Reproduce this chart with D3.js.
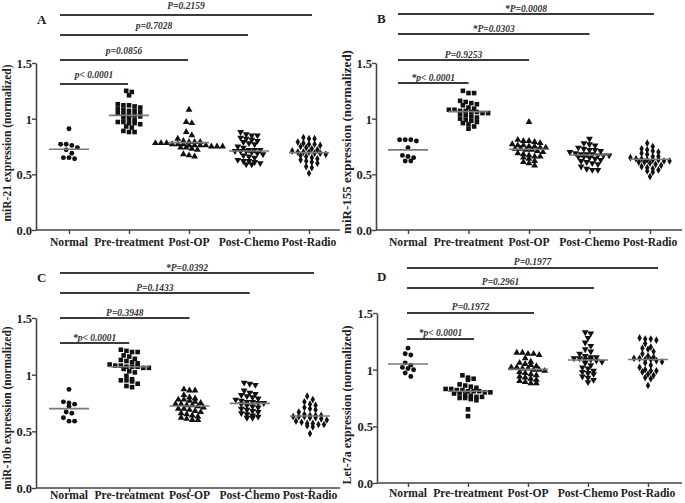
<!DOCTYPE html>
<html>
<head>
<meta charset="utf-8">
<script src="https://cdn.jsdelivr.net/npm/d3@7"></script>
<style>
html,body{margin:0;padding:0;background:#fff;}
svg{display:block;}
</style>
</head>
<body>
<svg id="chart" width="685" height="503"></svg>
<script>
// ---------------- DATA ----------------
const categories = ["Normal", "Pre-treatment", "Post-OP", "Post-Chemo", "Post-Radio"];
const panelLetters = ["A", "B", "C", "D"];
const yTitles = ["miR-21 expression (normalized)", "miR-155 expression (normalized)",
                 "miR-10b expression (normalized)", "Let-7a expression (normalized)"];
const yTickValues = [0, 0.5, 1, 1.5];
const yTickLabels = ["0.0", "0.5", "1", "1.5"];

// Panel A: miR-21
const a_normal = [0.91, 0.77, 0.76, 0.77, 0.74, 0.72, 0.69, 0.65, 0.64, 0.65];
const a_pre = [1.25, 1.24, 1.21, 1.13, 1.12, 1.12, 1.11, 1.10, 1.09, 1.08, 1.07, 1.07, 1.06, 1.05, 1.04,
               1.03, 1.03, 1.02, 1.01, 1.00, 0.99, 0.97, 0.97, 0.96, 0.96, 0.95, 0.93, 0.92, 0.89, 0.88, 0.88];
const a_op = [1.08, 0.97, 0.96, 0.88, 0.85, 0.82, 0.80, 0.79, 0.79, 0.79, 0.78, 0.78, 0.78, 0.77, 0.77,
              0.77, 0.76, 0.76, 0.76, 0.76, 0.75, 0.75, 0.75, 0.74, 0.74, 0.73, 0.72, 0.68, 0.67, 0.66];
const a_chemo = [0.88, 0.86, 0.85, 0.85, 0.83, 0.82, 0.81, 0.80, 0.79, 0.78, 0.77, 0.75, 0.74, 0.72, 0.72, 0.72,
                 0.71, 0.71, 0.71, 0.70, 0.69, 0.68, 0.67, 0.66, 0.65, 0.63, 0.62, 0.62, 0.61, 0.60, 0.59, 0.59];
const a_radio = [0.83, 0.82, 0.82, 0.79, 0.78, 0.77, 0.77, 0.76, 0.75, 0.74, 0.73, 0.72, 0.71, 0.70, 0.70,
                 0.70, 0.69, 0.69, 0.68, 0.67, 0.66, 0.65, 0.64, 0.63, 0.62, 0.61, 0.60, 0.57, 0.56, 0.51];
const a_medians = [0.725, 1.03, 0.785, 0.71, 0.695];
const a_pvals = ["p< 0.0001", "p=0.0856", "p=0.7028", "P=0.2159"];

// Panel B: miR-155
const b_normal = [0.81, 0.81, 0.80, 0.81, 0.74, 0.67, 0.66, 0.65, 0.62, 0.62];
const b_pre = [1.25, 1.23, 1.23, 1.16, 1.15, 1.14, 1.13, 1.12, 1.10, 1.09, 1.08, 1.08, 1.07, 1.07, 1.06,
               1.06, 1.05, 1.05, 1.04, 1.03, 1.02, 1.01, 1.00, 0.99, 0.98, 0.97, 0.96, 0.95, 0.93, 0.91];
const b_op = [0.97, 0.81, 0.80, 0.80, 0.79, 0.78, 0.77, 0.76, 0.76, 0.75, 0.75, 0.74, 0.74, 0.73, 0.73,
              0.72, 0.72, 0.71, 0.70, 0.69, 0.68, 0.67, 0.66, 0.66, 0.65, 0.64, 0.62, 0.61, 0.60, 0.58];
const b_chemo = [0.82, 0.78, 0.77, 0.76, 0.74, 0.73, 0.72, 0.72, 0.71, 0.70, 0.69, 0.68, 0.68, 0.68, 0.67,
                 0.67, 0.67, 0.66, 0.66, 0.65, 0.64, 0.63, 0.62, 0.61, 0.60, 0.59, 0.57, 0.55, 0.54, 0.54];
const b_radio = [0.78, 0.75, 0.73, 0.72, 0.71, 0.70, 0.69, 0.68, 0.66, 0.66, 0.65, 0.64, 0.64, 0.63, 0.63,
                 0.63, 0.62, 0.62, 0.61, 0.61, 0.60, 0.59, 0.58, 0.57, 0.56, 0.55, 0.54, 0.53, 0.52, 0.48];
const b_medians = [0.72, 1.063, 0.725, 0.674, 0.635];
const b_pvals = ["*p< 0.0001", "P=0.9253", "*P=0.0303", "*P=0.0008"];

// Panel C: miR-10b
const c_normal = [0.87, 0.76, 0.75, 0.74, 0.72, 0.67, 0.66, 0.62, 0.59, 0.59];
const c_pre = [1.22, 1.21, 1.20, 1.20, 1.17, 1.16, 1.14, 1.13, 1.12, 1.11, 1.10, 1.09, 1.08, 1.08, 1.07,
               1.07, 1.07, 1.06, 1.06, 1.05, 1.03, 1.02, 0.99, 0.96, 0.95, 0.95, 0.94, 0.92, 0.90, 0.89];
const c_op = [0.87, 0.86, 0.86, 0.82, 0.80, 0.79, 0.78, 0.78, 0.77, 0.76, 0.75, 0.74, 0.74, 0.73, 0.73,
              0.72, 0.71, 0.70, 0.70, 0.69, 0.68, 0.67, 0.66, 0.65, 0.64, 0.63, 0.62, 0.61, 0.60, 0.60];
const c_chemo = [0.93, 0.92, 0.91, 0.86, 0.84, 0.83, 0.82, 0.81, 0.80, 0.79, 0.78, 0.77, 0.76, 0.76, 0.75,
                 0.75, 0.74, 0.73, 0.72, 0.71, 0.70, 0.69, 0.68, 0.67, 0.66, 0.65, 0.64, 0.63, 0.62, 0.62];
const c_radio = [0.81, 0.78, 0.76, 0.74, 0.73, 0.71, 0.70, 0.69, 0.67, 0.65, 0.64, 0.64, 0.64, 0.63, 0.63,
                 0.63, 0.62, 0.62, 0.61, 0.60, 0.59, 0.58, 0.57, 0.57, 0.56, 0.56, 0.55, 0.54, 0.48];
const c_medians = [0.70, 1.07, 0.724, 0.747, 0.635];
const c_pvals = ["*p< 0.0001", "P=0.3948", "P=0.1433", "*P=0.0392"];

// Panel D: Let-7a
const d_normal = [1.19, 1.14, 1.13, 1.06, 1.04, 1.02, 1.01, 1.00, 0.97, 0.94];
const d_pre = [0.95, 0.93, 0.92, 0.91, 0.87, 0.86, 0.85, 0.84, 0.83, 0.83, 0.82, 0.82, 0.81, 0.81, 0.81,
               0.80, 0.80, 0.79, 0.79, 0.78, 0.77, 0.76, 0.76, 0.75, 0.75, 0.74, 0.73, 0.65, 0.59];
const d_op = [1.15, 1.15, 1.14, 1.14, 1.13, 1.10, 1.07, 1.06, 1.05, 1.04, 1.03, 1.02, 1.02, 1.01, 1.01,
              1.00, 1.00, 0.99, 0.98, 0.97, 0.96, 0.95, 0.94, 0.93, 0.92, 0.91, 0.90, 0.89, 0.88, 0.88];
const d_chemo = [1.33, 1.32, 1.28, 1.24, 1.21, 1.18, 1.16, 1.14, 1.12, 1.11, 1.11, 1.10, 1.10, 1.09, 1.09,
                 1.08, 1.07, 1.06, 1.04, 1.02, 1.01, 0.99, 0.98, 0.97, 0.96, 0.94, 0.93, 0.91, 0.89];
const d_radio = [1.28, 1.27, 1.27, 1.26, 1.23, 1.20, 1.19, 1.18, 1.16, 1.14, 1.12, 1.11, 1.10, 1.10, 1.09,
                 1.09, 1.08, 1.07, 1.06, 1.04, 1.02, 1.00, 0.99, 0.99, 0.98, 0.96, 0.95, 0.93, 0.92, 0.86];
const d_medians = [1.05, 0.81, 1.003, 1.085, 1.09];
const d_pvals = ["*p< 0.0001", "P=0.1972", "P=0.2961", "P=0.1977"];

// ---------------- LAYOUT ----------------
const panelData = [
  {groups: [a_normal, a_pre, a_op, a_chemo, a_radio], med: a_medians, pv: a_pvals},
  {groups: [b_normal, b_pre, b_op, b_chemo, b_radio], med: b_medians, pv: b_pvals},
  {groups: [c_normal, c_pre, c_op, c_chemo, c_radio], med: c_medians, pv: c_pvals},
  {groups: [d_normal, d_pre, d_op, d_chemo, d_radio], med: d_medians, pv: d_pvals}
];
const layouts = [
  {ax: 36, y0: 230, yTop: 63, c0: 69, c4: 309, xEnd: 340, clipX: 0, clipW: 340,
   bx0: 60, bdx: -1, by: [84, 60, 35, 15], lg: 6, let: [37, 24], tx: 7, ty: 143, tfs: 11.5, xlb: 246},
  {ax: 376, y0: 230, yTop: 63, c0: 408, c4: 650, xEnd: 682, clipX: 340, clipW: 345,
   bx0: 398, bdx: 0, by: [83, 60, 34, 14], lg: 2.5, let: [377, 23], tx: 347, ty: 142, tfs: 13, xlb: 246},
  {ax: 36, y0: 488, yTop: 318, c0: 69, c4: 310, xEnd: 340, clipX: 0, clipW: 340,
   bx0: 60, bdx: 0, by: [343, 318, 293, 273], lg: 2.5, let: [37, 282], tx: 7, ty: 408, tfs: 11.5, xlb: 499},
  {ax: 377, y0: 483, yTop: 313, c0: 408, c4: 648, xEnd: 682, clipX: 340, clipW: 345,
   bx0: 407, bdx: 6, by: [339, 313, 288, 268], lg: 3, let: [377, 281], tx: 347, ty: 405, tfs: 12, xlb: 497}
];

const FONT = "'Liberation Serif','Times New Roman',Times,serif";
const AXC = "#444";
const svg = d3.select("#chart");

const symbols = [
  {type: d3.symbolCircle, size: 19, rot: 0},
  {type: d3.symbolSquare, size: 21, rot: 0},
  {type: d3.symbolTriangle, size: 20, rot: 0},
  {type: d3.symbolTriangle, size: 20, rot: 180},
  {type: d3.symbolDiamond, size: 17, rot: 0}
];

// GraphPad-like binned scatter: points in the same pixel row are spread symmetrically
function scatterLayout(values, y, rowH, stepX) {
  const sorted = values.map(v => ({v, py: y(v)})).sort((a, b) => a.py - b.py);
  const rows = [];
  sorted.forEach(p => {
    const last = rows[rows.length - 1];
    if (last && p.py - last[0].py < rowH) last.push(p); else rows.push([p]);
  });
  rows.forEach(r => {
    const n = r.length;
    r.forEach((p, i) => { p.dx = (i - (n - 1) / 2) * stepX; });
  });
  return sorted;
}

panelData.forEach((pd, pi) => {
  const L = layouts[pi];
  const clipId = "clip" + pi;
  svg.append("clipPath").attr("id", clipId).append("rect")
    .attr("x", L.clipX).attr("y", 0).attr("width", L.clipW).attr("height", 503);
  const g = svg.append("g").attr("clip-path", `url(#${clipId})`);

  const y = d3.scaleLinear().domain([0, 1.5]).range([L.y0, L.yTop]);
  const x = d3.scalePoint().domain(categories).range([L.c0, L.c4]);

  // y axis
  const yAxis = d3.axisLeft(y).tickValues(yTickValues)
    .tickFormat((d, i) => yTickLabels[i]).tickSize(4).tickSizeOuter(0);
  const ya = g.append("g").attr("transform", `translate(${L.ax},0)`).call(yAxis);
  ya.select(".domain").attr("stroke", AXC).attr("stroke-width", 1.6);
  ya.selectAll(".tick line").attr("stroke", AXC).attr("stroke-width", 1.4);
  ya.selectAll(".tick text").attr("font-family", FONT).attr("font-weight", "bold")
    .attr("font-size", 12.5).attr("fill", "#222").attr("x", -4).attr("dy", "0.36em");

  // x axis
  g.append("line").attr("x1", L.ax).attr("x2", L.xEnd).attr("y1", L.y0).attr("y2", L.y0)
    .attr("stroke", AXC).attr("stroke-width", 1.6);
  const xa = d3.axisBottom(x).tickSize(4).tickSizeOuter(0).tickFormat(() => "");
  const xg = g.append("g").attr("transform", `translate(0,${L.y0})`).call(xa);
  xg.select(".domain").remove();
  xg.selectAll(".tick line").attr("stroke", AXC).attr("stroke-width", 1.4);
  g.selectAll(".xlab").data(categories).enter().append("text")
    .attr("x", d => x(d)).attr("y", L.xlb).attr("text-anchor", "middle")
    .attr("font-family", FONT).attr("font-weight", "bold").attr("font-size", 11.6)
    .attr("fill", "#222").text(d => d);

  // y title
  g.append("text").attr("transform", `translate(${L.tx + 4},${L.ty}) rotate(-90)`)
    .attr("text-anchor", "middle").attr("font-family", FONT).attr("font-weight", "bold")
    .attr("font-size", L.tfs).attr("fill", "#222").text(yTitles[pi]);

  // panel letter
  g.append("text").attr("x", L.let[0]).attr("y", L.let[1]).attr("font-family", FONT)
    .attr("font-weight", "bold").attr("font-size", 13).attr("fill", "#222").text(panelLetters[pi]);

  // brackets
  pd.pv.forEach((lab, i) => {
    const x1 = L.bx0;
    const x2 = x(categories[i + 1]) + L.bdx + (i === 3 ? 4 : 0);
    const by = L.by[i];
    g.append("line").attr("x1", x1).attr("x2", x2).attr("y1", by).attr("y2", by)
      .attr("stroke", "#3a3a3a").attr("stroke-width", 2);
    g.append("text").attr("x", (x1 + x2) / 2).attr("y", by - L.lg).attr("text-anchor", "middle")
      .attr("font-family", FONT).attr("font-weight", "bold").attr("font-style", "italic")
      .attr("font-size", 9.5).attr("fill", "#333").text(lab);
  });

  // points
  pd.groups.forEach((vals, gi) => {
    const pts = scatterLayout(vals, y, 4.2, 5.6);
    const sym = symbols[gi];
    const path = d3.symbol().type(sym.type).size(sym.size)();
    g.append("g").selectAll("path").data(pts).enter().append("path")
      .attr("d", path).attr("fill", "#111")
      .attr("transform", d => `translate(${x(categories[gi]) + d.dx},${d.py}) rotate(${sym.rot})`);
    // median line
    g.append("line").attr("x1", x(categories[gi]) - 20).attr("x2", x(categories[gi]) + 20)
      .attr("y1", y(pd.med[gi])).attr("y2", y(pd.med[gi]))
      .attr("stroke", "#7a7a7a").attr("stroke-width", 1.6);
  });
});
</script>
</body>
</html>
